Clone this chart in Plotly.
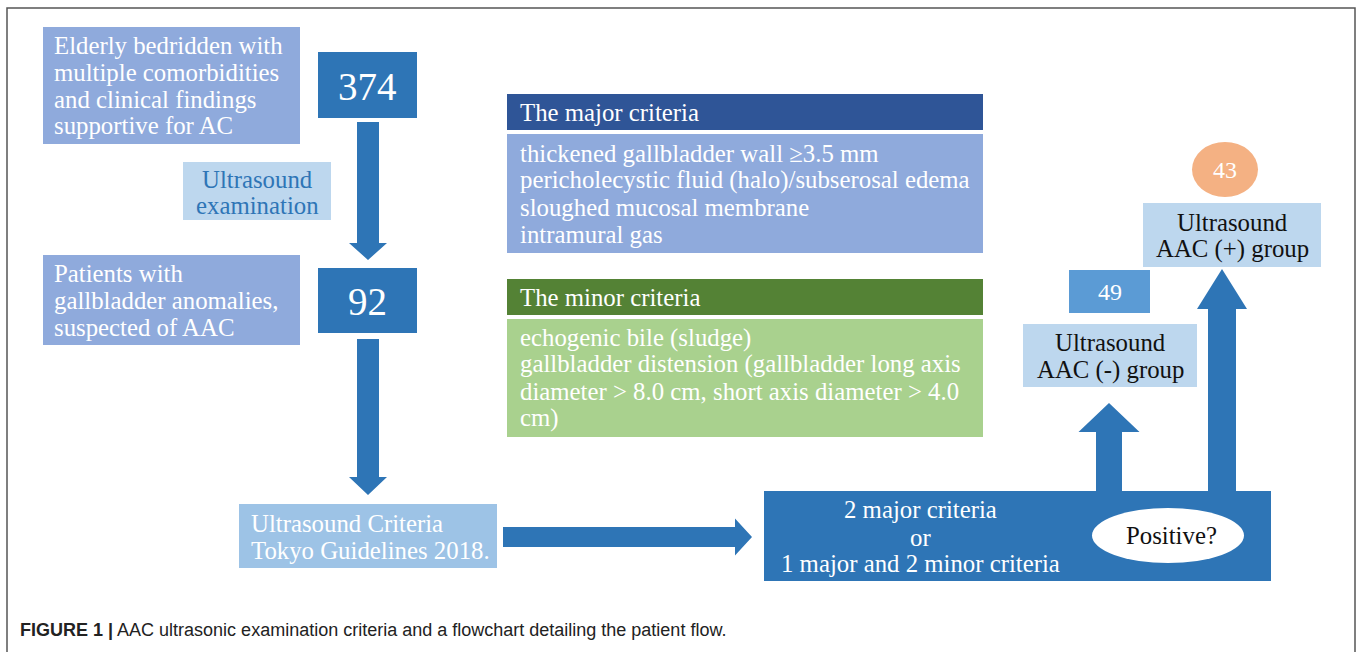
import plotly.graph_objects as go

W, H = 1357, 652
SERIF = "Liberation Serif"
FS = 24.8

# ---- content (text / values) ----
intro_lines = ["Elderly bedridden with", "multiple comorbidities", "and clinical findings", "supportive for AC"]
n_total = 374
exam_lines = ["Ultrasound", "examination"]
suspect_lines = ["Patients with", "gallbladder anomalies,", "suspected of AAC"]
n_suspect = 92
criteria_src_lines = ["Ultrasound Criteria", "Tokyo Guidelines 2018."]
major_title = "The major criteria"
major_items = ["thickened gallbladder wall \u22653.5 mm",
               "pericholecystic fluid (halo)/subserosal edema",
               "sloughed mucosal membrane",
               "intramural gas"]
minor_title = "The minor criteria"
minor_items = ["echogenic bile (sludge)",
               "gallbladder distension (gallbladder long axis",
               "diameter > 8.0 cm, short axis diameter > 4.0",
               "cm)"]
rule_lines = ["2 major criteria", "or", "1 major and 2 minor criteria"]
decision = "Positive?"
neg_lines = ["Ultrasound", "AAC (-) group"]
n_neg = 49
pos_lines = ["Ultrasound", "AAC (+) group"]
n_pos = 43
caption_bold = "FIGURE 1 |"
caption_text = " AAC ultrasonic examination criteria and a flowchart detailing the patient flow."

# ---- layout geometry (pixel space) ----
C_PERI = "#8FAADC"
C_DARK = "#2E75B6"
C_LIGHT = "#BDD7EE"
C_MID = "#9DC3E6"
C_HDR_MAJ = "#2F5597"
C_HDR_MIN = "#548235"
C_MIN = "#A9D18E"
C_49 = "#5B9BD5"
C_43 = "#F4B183"

shapes = []
annos = []

def rect(x0, y0, x1, y1, color):
    shapes.append(dict(type="rect", xref="x", yref="y", x0=x0, y0=y0, x1=x1, y1=y1,
                       fillcolor=color, line=dict(width=0), layer="below"))

def ellipse(x0, y0, x1, y1, color):
    shapes.append(dict(type="circle", xref="x", yref="y", x0=x0, y0=y0, x1=x1, y1=y1,
                       fillcolor=color, line=dict(width=0)))

def path(d, color):
    shapes.append(dict(type="path", xref="x", yref="y", path=d,
                       fillcolor=color, line=dict(width=0)))

def arrow_down(cx, y0, y_tip, sw, hw, hl):
    d = (f"M{cx-sw/2},{y0} L{cx+sw/2},{y0} L{cx+sw/2},{y_tip-hl} L{cx+hw/2},{y_tip-hl} "
         f"L{cx},{y_tip} L{cx-hw/2},{y_tip-hl} L{cx-sw/2},{y_tip-hl} Z")
    path(d, C_DARK)

def arrow_up(cx, y0, y_tip, sw, hw, hl):
    d = (f"M{cx-sw/2},{y0} L{cx+sw/2},{y0} L{cx+sw/2},{y_tip+hl} L{cx+hw/2},{y_tip+hl} "
         f"L{cx},{y_tip} L{cx-hw/2},{y_tip+hl} L{cx-sw/2},{y_tip+hl} Z")
    path(d, C_DARK)

def arrow_right(cy, x0, x_tip, sw, hw, hl):
    d = (f"M{x0},{cy-sw/2} L{x_tip-hl},{cy-sw/2} L{x_tip-hl},{cy-hw/2} L{x_tip},{cy} "
         f"L{x_tip-hl},{cy+hw/2} L{x_tip-hl},{cy+sw/2} L{x0},{cy+sw/2} Z")
    path(d, C_DARK)

def text(x, y, s, size=FS, color="white", anchor="left", family=SERIF):
    annos.append(dict(x=x, y=y, xref="x", yref="y", text=s, showarrow=False,
                      xanchor=anchor, yanchor="middle",
                      font=dict(family=family, size=size, color=color)))

def lines(x, ys, items, **kw):
    for y, s in zip(ys, items):
        text(x, y, s, **kw)

# frame
shapes.append(dict(type="path", xref="x", yref="y", path=f"M7,{H} L7,8 L1355,8 L1355,{H}",
                   line=dict(color="#555555", width=1.5)))

# left column
rect(43, 27, 300, 144, C_PERI)
lines(52, [45, 72, 99, 125], intro_lines)
rect(318, 52, 417, 118, C_DARK)
text(367, 86, str(n_total), size=39, anchor="center")
arrow_down(368, 122, 260, 22, 38, 17)
rect(183, 162, 331, 220, C_LIGHT)
lines(257, [179, 205], exam_lines, color=C_DARK, anchor="center")
rect(43, 255, 300, 345, C_PERI)
lines(52, [273, 300, 327], suspect_lines)
rect(318, 268, 417, 333, C_DARK)
text(367, 301, str(n_suspect), size=39, anchor="center")
arrow_down(368, 339, 495, 22, 38, 18)
rect(239, 504, 497, 568, C_MID)
lines(249, [523, 550], criteria_src_lines)
arrow_right(537, 503, 752, 20, 37, 17)

# criteria tables
rect(507, 94, 983, 130, C_HDR_MAJ)
text(518, 112, major_title)
rect(507, 134, 983, 253, C_PERI)
lines(518, [153, 180, 207, 234], major_items)
rect(507, 279, 983, 315, C_HDR_MIN)
text(518, 297, minor_title)
rect(507, 319, 983, 437, C_MIN)
lines(518, [338, 364, 391, 418], minor_items)

# decision block
rect(764, 491, 1271, 581, C_DARK)
lines(920, [509, 537, 563], rule_lines, anchor="center")
ellipse(1092, 508, 1244, 563, "white")
text(1171, 535, decision, color="#111111", anchor="center")
arrow_up(1109, 492, 403, 26, 61, 29)
arrow_up(1222, 492, 269, 28, 50, 40)

rect(1023, 324, 1197, 387, C_LIGHT)
lines(1110, [342, 370], neg_lines, color="#111111", anchor="center")
rect(1069, 270, 1150, 313, C_49)
text(1110, 292, str(n_neg), size=24, anchor="center")
rect(1143, 203, 1321, 267, C_LIGHT)
lines(1232, [222, 249], pos_lines, color="#111111", anchor="center")
ellipse(1192, 142, 1258, 197, C_43)
text(1225, 170, str(n_pos), size=24, anchor="center")

# caption
annos.append(dict(x=18, y=630, xref="x", yref="y", showarrow=False, xanchor="left", yanchor="middle",
                  text=f"<b>{caption_bold}</b>{caption_text}",
                  font=dict(family="Liberation Sans", size=18, color="#222222")))

fig = go.Figure()
fig.add_trace(go.Scatter(x=[0, W], y=[0, H], mode="markers", marker=dict(opacity=0), hoverinfo="skip",
                         showlegend=False))
fig.update_layout(
    width=W, height=H, margin=dict(l=0, r=0, t=0, b=0),
    paper_bgcolor="white", plot_bgcolor="white",
    xaxis=dict(range=[0, W], visible=False, fixedrange=True),
    yaxis=dict(range=[H, 0], visible=False, fixedrange=True),
    shapes=shapes, annotations=annos, showlegend=False,
)
fig.write_html("out.html", config={"displayModeBar": False},
               post_script="document.body.style.margin='0';document.body.style.overflow='hidden';")
